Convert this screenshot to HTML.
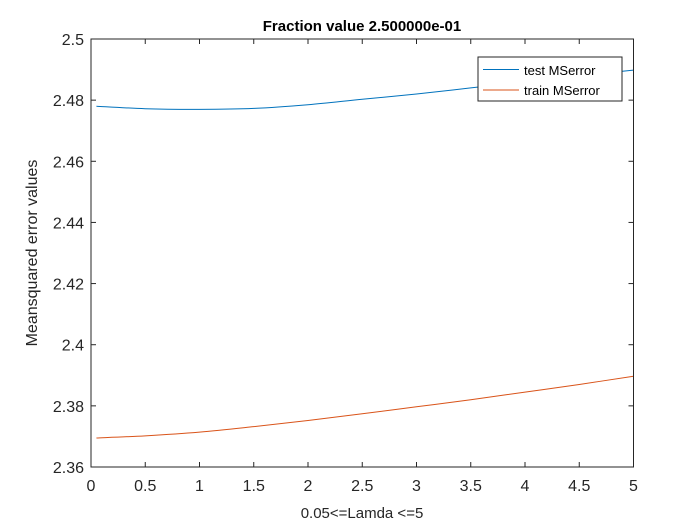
<!DOCTYPE html>
<html><head><meta charset="utf-8"><style>
html,body{margin:0;padding:0;background:#fff;}
svg{display:block;font-family:"Liberation Sans",Arial,sans-serif;}
</style></head><body>
<svg id="chart" width="700" height="525" viewBox="0 0 700 525">
<rect x="0" y="0" width="700" height="525" fill="#fff"/>
<rect x="91" y="39" width="542.5" height="428" fill="#fff"/>
<g id="ticks"></g>
<g id="series"></g>
<rect x="91" y="39" width="542.5" height="428" fill="none" stroke="#262626" stroke-width="1"/>
<text x="362" y="31" text-anchor="middle" font-size="15" font-weight="bold" fill="#000">Fraction value 2.500000e-01</text>
<text x="362" y="518" text-anchor="middle" font-size="15" fill="#262626">0.05&lt;=Lamda &lt;=5</text>
<text transform="translate(37,253) rotate(-90)" text-anchor="middle" font-size="16" fill="#262626">Meansquared error values</text>
<g>
<rect x="478" y="57" width="144" height="44" fill="#fff" stroke="#262626" stroke-width="1"/>
<line x1="483" y1="69.5" x2="519" y2="69.5" stroke="#0072BD" stroke-width="1"/>
<text x="524" y="75" font-size="13" fill="#000">test MSerror</text>
<line x1="483" y1="90" x2="519" y2="90" stroke="#D95319" stroke-width="1"/>
<text x="524" y="95" font-size="13" fill="#000">train MSerror</text>
</g>
</svg>
<script>
const lambdas = [0.05, 0.5, 1, 1.5, 2, 2.5, 3, 3.5, 4, 4.5, 5];
const testErr = [2.478, 2.4772, 2.477, 2.4773, 2.4785, 2.4803, 2.482, 2.484, 2.486, 2.488, 2.4898];
const trainErr = [2.3695, 2.3702, 2.3714, 2.3732, 2.3752, 2.3774, 2.3797, 2.382, 2.3845, 2.387, 2.3897];
const xTicks = [0, 0.5, 1, 1.5, 2, 2.5, 3, 3.5, 4, 4.5, 5];
const xTickLabels = ["0","0.5","1","1.5","2","2.5","3","3.5","4","4.5","5"];
const yTicks = [2.36, 2.38, 2.4, 2.42, 2.44, 2.46, 2.48, 2.5];
const yTickLabels = ["2.36","2.38","2.4","2.42","2.44","2.46","2.48","2.5"];

const L=91,R=633.5,T=39,B=467;
const sx=v=>L+(v-0)/(5-0)*(R-L);
const sy=v=>B-(v-2.36)/(2.5-2.36)*(B-T);
const NS='http://www.w3.org/2000/svg';
const tg=document.getElementById('ticks');
function mk(tag,attrs,parent){const e=document.createElementNS(NS,tag);for(const k in attrs)e.setAttribute(k,attrs[k]);parent.appendChild(e);return e;}
xTicks.forEach((v,i)=>{
  const x=sx(v);
  const a=mk('line',{x1:x,y1:B,x2:x,y2:B-5,stroke:'#262626'},tg);
  
  
  const b=mk('line',{x1:x,y1:T,x2:x,y2:T+5,stroke:'#262626'},tg);
  
  
  const t=mk('text',{x:x,y:B+24,'text-anchor':'middle','font-size':'16',fill:'#262626'},tg);
  t.textContent=xTickLabels[i];
  
  
});
yTicks.forEach((v,i)=>{
  const y=sy(v);
  const a=mk('line',{x1:L,y1:y,x2:L+5,y2:y,stroke:'#262626'},tg);
  
  
  const b=mk('line',{x1:R,y1:y,x2:R-5,y2:y,stroke:'#262626'},tg);
  
  
  const t=mk('text',{x:L-7,y:y+6,'text-anchor':'end','font-size':'16',fill:'#262626'},tg);
  t.textContent=yTickLabels[i];
  
  
});
const sg=document.getElementById('series');
function line(vals,color,name){
  const pts=lambdas.map((x,i)=>[sx(x),sy(vals[i])]);
  let d='M'+pts[0][0]+','+pts[0][1];
  for(let i=0;i<pts.length-1;i++){
    const p0=pts[Math.max(0,i-1)],p1=pts[i],p2=pts[i+1],p3=pts[Math.min(pts.length-1,i+2)];
    const c1x=p1[0]+(p2[0]-p0[0])/6,c1y=p1[1]+(p2[1]-p0[1])/6;
    const c2x=p2[0]-(p3[0]-p1[0])/6,c2y=p2[1]-(p3[1]-p1[1])/6;
    d+=' C'+c1x+','+c1y+' '+c2x+','+c2y+' '+p2[0]+','+p2[1];
  }
  const p=mk('path',{d:d,fill:'none',stroke:color,'stroke-width':'1'},sg);
  
  
}
line(testErr,'#0072BD','test-mserror-line');
line(trainErr,'#D95319','train-mserror-line');
</script>
</body></html>
